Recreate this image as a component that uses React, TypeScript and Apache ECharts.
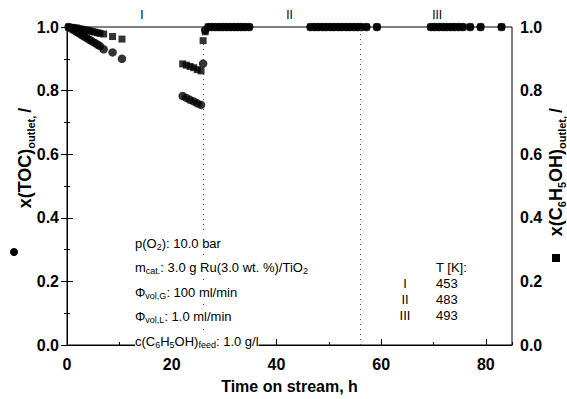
import React, { useEffect, useRef } from "react";
import * as echarts from "echarts";

// ---- data ----
const tocTime = [0.3, 0.8, 1.3, 1.8, 2.3, 2.8, 3.3, 3.8, 4.3, 4.8, 5.3, 5.8, 6.3, 7.0, 8.7, 10.5,
  22.1, 22.8, 23.5, 24.2, 24.9, 25.6, 26.0, 26.4,
  27.0, 27.7, 28.4, 29.1, 29.8, 30.5, 31.2, 31.9, 32.6, 33.3, 34.0, 34.8,
  46.5, 47.3, 48.0, 48.8, 49.5, 50.3, 51.0, 51.8, 52.5, 53.3, 54.0, 54.8, 55.5, 56.2, 57.2, 59.2,
  69.5, 70.2, 71.0, 71.8, 72.5, 73.3, 74.0, 74.8, 75.6, 77.0, 79.0, 83.0];
const tocValue = [1.0, 0.995, 0.99, 0.985, 0.98, 0.975, 0.97, 0.965, 0.96, 0.955, 0.95, 0.945, 0.94, 0.93, 0.92, 0.90,
  0.783, 0.777, 0.771, 0.766, 0.76, 0.755, 0.885, 0.99,
  1.0, 1.0, 1.0, 1.0, 1.0, 1.0, 1.0, 1.0, 1.0, 1.0, 1.0, 1.0,
  1.0, 1.0, 1.0, 1.0, 1.0, 1.0, 1.0, 1.0, 1.0, 1.0, 1.0, 1.0, 1.0, 1.0, 1.0, 1.0,
  1.0, 1.0, 1.0, 1.0, 1.0, 1.0, 1.0, 1.0, 1.0, 1.0, 1.0, 1.0];
const phenolTime = [0.3, 0.8, 1.3, 1.8, 2.3, 2.8, 3.3, 3.8, 4.3, 4.8, 5.3, 5.8, 6.3, 7.0, 8.7, 10.5,
  22.1, 22.8, 23.5, 24.2, 24.9, 25.6, 26.0, 26.4,
  27.0, 27.7, 28.4, 29.1, 29.8, 30.5, 31.2, 31.9, 32.6, 33.3, 34.0, 34.8,
  46.5, 47.3, 48.0, 48.8, 49.5, 50.3, 51.0, 51.8, 52.5, 53.3, 54.0, 54.8, 55.5, 56.2, 57.2, 59.2,
  69.5, 70.2, 71.0, 71.8, 72.5, 73.3, 74.0, 74.8, 75.6, 77.0, 79.0, 83.0];
const phenolValue = [1.0, 0.999, 0.998, 0.997, 0.995, 0.993, 0.991, 0.99, 0.988, 0.986, 0.984, 0.982, 0.98, 0.978, 0.97, 0.962,
  0.884, 0.88, 0.876, 0.872, 0.866, 0.862, 0.957, 0.985,
  1.0, 1.0, 1.0, 1.0, 1.0, 1.0, 1.0, 1.0, 1.0, 1.0, 1.0, 1.0,
  1.0, 1.0, 1.0, 1.0, 1.0, 1.0, 1.0, 1.0, 1.0, 1.0, 1.0, 1.0, 1.0, 1.0, 1.0, 1.0,
  1.0, 1.0, 1.0, 1.0, 1.0, 1.0, 1.0, 1.0, 1.0, 1.0, 1.0, 1.0];
const periodBounds = [26, 56];
const periodLabels = ["I", "II", "III"];
const periodCenters = [14.3, 42.5, 70.7];
const periodTemps = ["453", "483", "493"];
const xTicks = { min: 0, max: 85, interval: 20 };
const yTicks = { min: 0, max: 1, interval: 0.2 };

const FONT = "Liberation Sans, Arial, sans-serif";

export default function App() {
  const ref = useRef<HTMLDivElement>(null);
  useEffect(() => {
    if (!ref.current) return;
    const chart = echarts.init(ref.current, undefined, { renderer: "svg" });
    const gridL = 67, gridR = 55, gridT = 27, gridB = 44;
    const plotW = 567 - gridL - gridR;
    const xToPx = (v: number) => gridL + (v / xTicks.max) * plotW;

    const sub = { fontSize: 9, fontFamily: FONT, color: "#000", verticalAlign: "top", lineHeight: 10, padding: [9, 0, 0, 0] };
    const norm = { fontSize: 13, fontFamily: FONT, color: "#000", lineHeight: 20 };
    const bsub = { fontSize: 11, fontWeight: "bold", fontFamily: FONT, color: "#000", verticalAlign: "top", lineHeight: 12, padding: [12, 0, 0, 0] };
    const bnorm = { fontSize: 18, fontWeight: "bold", fontFamily: FONT, color: "#000", lineHeight: 24 };

    const annLines = [
      "{n|p(O}{s|2}{n|): 10.0 bar}",
      "{n|m}{s|cat.}{n|: 3.0 g Ru(3.0 wt. %)/TiO}{s|2}",
      "{n|Φ}{s|vol,G}{n|: 100 ml/min}",
      "{n|Φ}{s|vol,L}{n|: 1.0 ml/min}",
      "{n|c(C}{s|6}{n|H}{s|5}{n|OH)}{s|feed}{n|: 1.0 g/l}",
    ];
    const graphics: any[] = [];
    annLines.forEach((t, i) => {
      graphics.push({
        type: "text", left: 135, top: 233 + i * 24.5, z: 50,
        style: { text: t, rich: { n: norm, s: sub }, fill: "#000", backgroundColor: "#fff" },
      });
    });
    graphics.push({ type: "text", x: 436, y: 267, style: { text: "T [K]:", font: `13px ${FONT}`, fill: "#000", verticalAlign: "middle" } });
    periodLabels.forEach((l, i) => {
      graphics.push({ type: "text", x: 405, y: 283 + i * 16, style: { text: l, font: `13px ${FONT}`, fill: "#000", align: "center", verticalAlign: "middle" } });
      graphics.push({ type: "text", x: 436, y: 283 + i * 16, style: { text: periodTemps[i], font: `13px ${FONT}`, fill: "#000", verticalAlign: "middle" } });
    });
    periodLabels.forEach((l, i) => {
      graphics.push({ type: "text", x: xToPx(periodCenters[i]), y: 15, style: { text: l, font: `12px ${FONT}`, fill: "#000000", align: "center", verticalAlign: "middle" } });
    });
    // axis names
    graphics.push({ type: "circle", shape: { cx: 14, cy: 252, r: 4 }, style: { fill: "#000" } });
    graphics.push({
      type: "text", x: 25, y: 158, rotation: Math.PI / 2,
      style: { text: "{b|x(TOC)}{s|outlet, }{b|/}", rich: { b: bnorm, s: bsub }, align: "center", verticalAlign: "middle" },
    });
    graphics.push({ type: "rect", shape: { x: 552, y: 254, width: 8, height: 8 }, style: { fill: "#000" } });
    graphics.push({
      type: "text", x: 556, y: 172, rotation: Math.PI / 2,
      style: { text: "{b|x(C}{s|6}{b|H}{s|5}{b|OH)}{s|outlet, }{b|/}", rich: { b: bnorm, s: bsub }, align: "center", verticalAlign: "middle" },
    });

    const labelStyle = { fontSize: 16, fontWeight: "bold", fontFamily: FONT, color: "#000" };
    const yAxisCommon = {
      type: "value", min: yTicks.min, max: yTicks.max, interval: yTicks.interval,
      axisLine: { show: true, lineStyle: { color: "#000", width: 1 } },
      axisTick: { show: true, inside: true, length: 6, lineStyle: { color: "#000" } },
      minorTick: { show: true, splitNumber: 2, length: 3, lineStyle: { color: "#000" } },
      splitLine: { show: false },
      axisLabel: { formatter: (v: number) => v.toFixed(1), ...labelStyle, margin: 8 },
    };

    chart.setOption({
      animation: false,
      backgroundColor: "#fff",
      grid: { left: gridL, right: gridR, top: gridT, bottom: gridB, show: true, borderColor: "#000", borderWidth: 1, backgroundColor: "transparent" },
      xAxis: [
        {
          type: "value", min: xTicks.min, max: xTicks.max, interval: xTicks.interval,
          axisLine: { show: true, onZero: false, lineStyle: { color: "#000" } },
          axisTick: { show: true, inside: true, length: 6, lineStyle: { color: "#000" } },
          splitLine: { show: false },
          axisLabel: { showMaxLabel: false, ...labelStyle, margin: 11 },
          name: "Time on stream, h", nameLocation: "middle", nameGap: 33,
          nameTextStyle: { fontSize: 16, fontWeight: "bold", fontFamily: FONT, color: "#000" },
        },
        {
          type: "value", min: xTicks.min, max: xTicks.max, interval: xTicks.interval / 2, position: "bottom",
          axisLine: { show: false, onZero: false },
          axisTick: { show: true, inside: true, length: 3, lineStyle: { color: "#000" } },
          splitLine: { show: false }, axisLabel: { show: false },
        },
      ],
      yAxis: [
        { ...yAxisCommon, position: "left" },
        { ...yAxisCommon, position: "right" },
      ],
      graphic: graphics,
      series: [
        {
          type: "scatter", xAxisIndex: 0, yAxisIndex: 1, symbol: "rect", symbolSize: 7,
          itemStyle: { color: "#000" },
          data: phenolTime.map((t, i) => [t, phenolValue[i]]),
          markLine: {
            silent: true, symbol: "none", label: { show: false },
            lineStyle: { color: "#444", width: 1, type: [1, 4] },
            data: periodBounds.map((b) => ({ xAxis: b })),
          },
        },
        {
          type: "scatter", xAxisIndex: 0, yAxisIndex: 0, symbol: "circle", symbolSize: 8.5,
          itemStyle: { color: "#000" },
          data: tocTime.map((t, i) => [t, tocValue[i]]),
        },
      ],
    });
    return () => chart.dispose();
  }, []);
  return <div ref={ref} style={{ width: 567, height: 399, position: "absolute", left: 0, top: 0 }} />;
}
